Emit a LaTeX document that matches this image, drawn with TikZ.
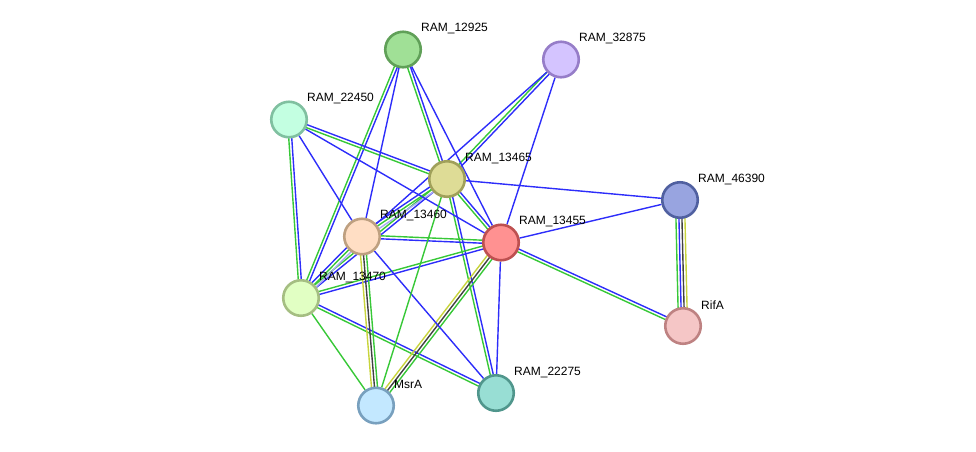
\documentclass[tikz,border=0pt]{standalone}
\usepackage{fontspec}
\setmainfont{Liberation Sans}
\usetikzlibrary{calc}
\pgfdeclarelayer{bg}
\pgfsetlayers{bg,main}

\definecolor{eblue}{RGB}{45,45,250}
\definecolor{egreen}{RGB}{55,200,55}
\definecolor{eyellow}{RGB}{200,212,60}
\definecolor{edark}{RGB}{65,65,65}
\definecolor{elav}{RGB}{170,170,245}

% one line of an edge, shifted sideways by #4
\newcommand\pline[4]{\draw[#1] ($(#2)!#4!90:(#3)$) -- ($(#3)!#4!-90:(#2)$);}

\begin{document}
\begin{tikzpicture}[x=1pt,y=-1pt,font=\fontsize{12}{14}\selectfont,
  nd/.style={circle,draw,line width=2.6pt,minimum size=35.5pt,inner sep=0pt},
  lb/.style={anchor=west,inner sep=0pt},
  bl/.style={eblue,line width=1.4pt},
  gr/.style={egreen,line width=1.4pt},
  yl/.style={eyellow,line width=1.4pt},
  dk/.style={edark,line width=1.4pt},
  lv/.style={elav,line width=1.4pt}]
  \useasboundingbox (0,0) rectangle (976,451);

  \node[nd,fill={rgb,255:red,160;green,224;blue,150},draw={rgb,255:red,96;green,160;blue,88}](n12925) at (403,49.5){};
  \node[nd,fill={rgb,255:red,212;green,196;blue,255},draw={rgb,255:red,150;green,125;blue,200}](n32875) at (561,59.5){};
  \node[nd,fill={rgb,255:red,195;green,255;blue,225},draw={rgb,255:red,128;green,192;blue,160}](n22450) at (289,119.5){};
  \node[nd,fill={rgb,255:red,222;green,220;blue,150},draw={rgb,255:red,160;green,160;blue,90}](n13465) at (447,179){};
  \node[nd,fill={rgb,255:red,152;green,164;blue,224},draw={rgb,255:red,80;green,96;blue,160}](n46390) at (680,200){};
  \node[nd,fill={rgb,255:red,255;green,222;blue,196},draw={rgb,255:red,190;green,160;blue,128}](n13460) at (362,236.5){};
  \node[nd,fill={rgb,255:red,255;green,145;blue,145},draw={rgb,255:red,190;green,80;blue,80}](n13455) at (501,242.5){};
  \node[nd,fill={rgb,255:red,225;green,255;blue,195},draw={rgb,255:red,165;green,190;blue,130}](n13470) at (301,298){};
  \node[nd,fill={rgb,255:red,245;green,198;blue,198},draw={rgb,255:red,190;green,130;blue,130}](nRifA) at (683,326){};
  \node[nd,fill={rgb,255:red,152;green,222;blue,212},draw={rgb,255:red,80;green,150;blue,140}](n22275) at (496,393){};
  \node[nd,fill={rgb,255:red,195;green,232;blue,255},draw={rgb,255:red,120;green,160;blue,190}](nMsrA) at (376,405.5){};

  \node[lb](t12925) at ([shift={(18,-21)}]n12925.center){RAM\_12925};
  \node[lb](t32875) at ([shift={(18,-21)}]n32875.center){RAM\_32875};
  \node[lb](t22450) at ([shift={(18,-21)}]n22450.center){RAM\_22450};
  \node[lb](t13465) at ([shift={(18,-21)}]n13465.center){RAM\_13465};
  \node[lb](t46390) at ([shift={(18,-21)}]n46390.center){RAM\_46390};
  \node[lb](t13460) at ([shift={(18,-21)}]n13460.center){RAM\_13460};
  \node[lb](t13455) at ([shift={(18,-21)}]n13455.center){RAM\_13455};
  \node[lb](t13470) at ([shift={(18,-21)}]n13470.center){RAM\_13470};
  \node[lb](tRifA) at ([shift={(18,-21)}]nRifA.center){RifA};
  \node[lb](t22275) at ([shift={(18,-21)}]n22275.center){RAM\_22275};
  \node[lb](tMsrA) at ([shift={(18,-21)}]nMsrA.center){MsrA};

  \begin{pgfonlayer}{bg}
  % blue + green
  \foreach \a/\b in {n12925/n13470,n12925/n13465,n32875/n13465,n22450/n13470,n22450/n13465,
      n13465/n13455,n13465/n22275,n13465/n13470,n13455/nRifA,n13455/n13470,n13455/n13460,n13470/n22275}{
    \pline{bl}{\a}{\b}{1.5pt}\pline{gr}{\a}{\b}{-1.5pt}}
  % blue + green + lavender
  \foreach \a/\b in {n13465/n13460,n13460/n13470}{
    \pline{bl}{\a}{\b}{-3pt}\pline{gr}{\a}{\b}{0pt}\pline{lv}{\a}{\b}{3pt}}
  % yellow + dark + green
  \foreach \a/\b in {n13455/nMsrA,n13460/nMsrA}{
    \pline{yl}{\a}{\b}{-3pt}\pline{dk}{\a}{\b}{0pt}\pline{gr}{\a}{\b}{3pt}}
  \pline{gr}{n46390}{nRifA}{-4.5pt}\pline{bl}{n46390}{nRifA}{-1.5pt}
  \pline{dk}{n46390}{nRifA}{1.5pt}\pline{yl}{n46390}{nRifA}{4.5pt}
  % single lines
  \foreach \a/\b in {n12925/n13460,n12925/n13455,n32875/n13460,n32875/n13455,n22450/n13460,
      n22450/n13455,n13465/n46390,n13455/n46390,n13455/n22275,n13460/n22275}
    \draw[bl](\a)--(\b);
  \foreach \a/\b in {n13465/nMsrA,n13470/nMsrA}
    \draw[gr](\a)--(\b);
  \end{pgfonlayer}
\end{tikzpicture}
\end{document}
